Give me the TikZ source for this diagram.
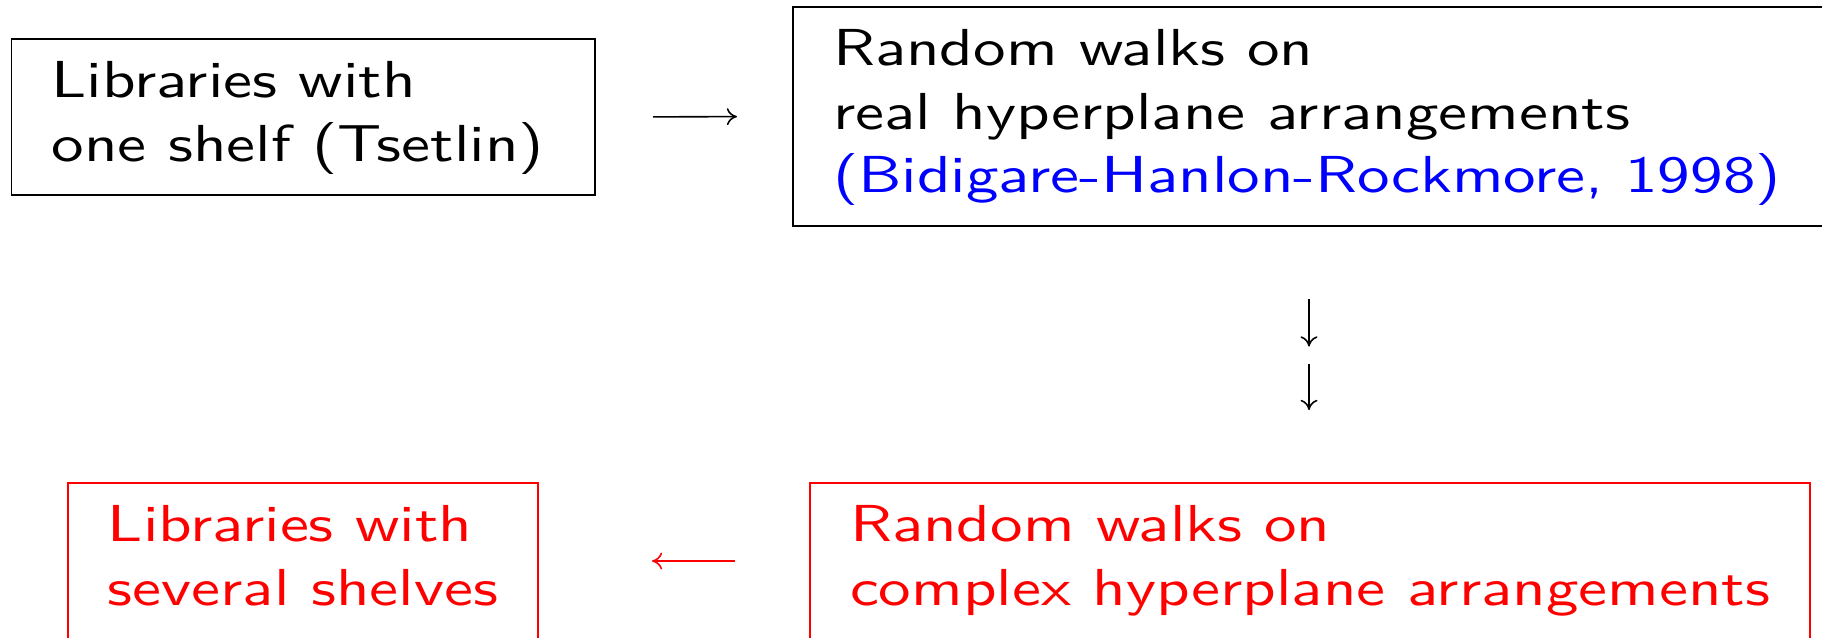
\documentclass[tikz,border=0pt]{standalone}
\usepackage{fontspec}
\setmainfont{lmsans10-regular.otf}[FakeStretch=1.25]
\usetikzlibrary{arrows.meta}

\tikzset{
	box/.style={draw, line width=0.55pt, outer sep=0pt, inner xsep=0.40cm, inner ysep=0.145cm, align=flush left, anchor=north west, font=\fontsize{14.8}{18.07}\selectfont},
	redbox/.style={box, draw=red, text=red},
	arr/.style={line width=0.45pt, -{Computer Modern Rightarrow[length=2.9pt,width=4.8pt]}}
}

\begin{document}
\begin{tikzpicture}
	\useasboundingbox (0,0) rectangle (18.22,-6.37);
	\node[box, text width=5.035cm] (oneshelf) at (0.115,-0.39) {\strut Libraries with\\\strut one shelf (Tsetlin)};
	\node[box, text width=9.8cm] (realarr) at (7.93,-0.067) {\strut Random walks on\\\strut real hyperplane arrangements\\\strut\textcolor{blue}{(Bidigare-Hanlon-Rockmore, 1998)}};
	\node[redbox] (severalshelves) at (0.68,-4.83) {\strut Libraries with\\\strut several shelves};
	\node[redbox] (complexarr) at (8.10,-4.83) {\strut Random walks on\\\strut complex hyperplane arrangements};
	\coordinate (mid) at (13.09,-3.55);
	\draw[arr, shorten <=0.58cm, shorten >=0.56cm] (oneshelf.east) -- (realarr.west);
	\draw[arr, shorten <=0.73cm, shorten >=0.085cm] (realarr.south -| mid) -- (mid);
	\draw[arr, shorten <=0.085cm, shorten >=0.73cm] (mid) -- (mid |- complexarr.north);
	\draw[arr, red, shorten <=0.75cm, shorten >=1.14cm] (complexarr.west) -- (severalshelves.east);
\end{tikzpicture}
\end{document}
